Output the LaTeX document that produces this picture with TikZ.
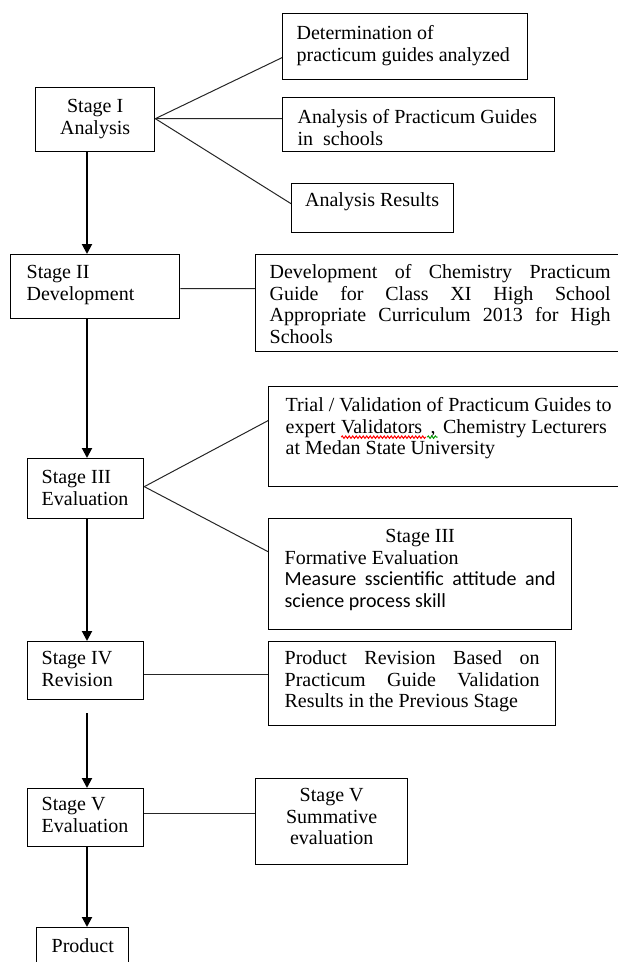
\documentclass[tikz,border=0pt]{standalone}
\usepackage{fontspec}
\setmainfont{Liberation Serif}
\newfontfamily\calibri{Carlito}
\usetikzlibrary{arrows.meta,decorations.pathmorphing}

% top aligned text inside a box of fixed size: width, height, first baseline, text
\newcommand{\cell}[4]{\parbox[c][#2][t]{#1}{\rule{0pt}{#3}#4}}
% spell-check wave under a word: colour, overhang, word
\newcommand{\spellmark}[3]{\tikz[baseline=(w.base)]{\node[inner sep=0pt, outer sep=0pt, anchor=base, draw=none] (w) {#3};
    \draw[#1, line width=1bp, decorate, decoration={snake, amplitude=1.2bp, segment length=3.5bp}] ([yshift=-4bp]w.base west) -- ([yshift=-4bp, xshift=#2]w.base east);}}

\tikzset{
  guide/.style={draw, line width=1.3bp, anchor=north west, inner xsep=15bp, inner ysep=0pt},
  link/.style={draw=black!85, line width=1bp},
  flow/.style={line width=2bp, -{Triangle[length=10bp,width=10bp]}},
}

\begin{document}
\begin{tikzpicture}[x=1bp, y=-1bp, font=\fontsize{20bp}{21.5bp}\selectfont]

        \useasboundingbox (0,0) rectangle (618,962);
        \clip (0,0) rectangle (618,962);

        % stages
        \node[guide] (s1) at (35,87) {\cell{89bp}{64bp}{25bp}{\centering Stage I\\Analysis}};
        \node[guide, inner xsep=16bp] (s2) at (10,254) {\cell{137bp}{64bp}{24bp}{Stage II\\Development}};
        \node[guide, inner xsep=14bp] (s3) at (27,458) {\cell{88bp}{60bp}{25bp}{Stage III\\Evaluation}};
        \node[guide, inner xsep=14bp] (s4) at (27,641) {\cell{88bp}{58bp}{23bp}{Stage IV\\Revision}};
        \node[guide, inner xsep=14bp] (s5) at (27,788) {\cell{88bp}{58bp}{22bp}{Stage V\\Evaluation}};
        \node[guide] (prod) at (36,927) {\cell{62bp}{50bp}{25bp}{\centering Product}};

        % activities
        \node[guide, inner xsep=14bp] (det) at (282,13) {\cell{217bp}{66bp}{26bp}{\raggedright Determination of\\practicum guides analyzed}};
        \node[guide] (apg) at (282,97) {\cell{242bp}{54bp}{26bp}{\raggedright Analysis of Practicum Guides\\in~~schools}};
        \node[guide, inner xsep=13.5bp] (ares) at (291,183) {\cell{135bp}{49bp}{23bp}{\raggedright Analysis Results}};
        \node[guide, inner xsep=14bp] (dev) at (255,254) {\cell{341bp}{97bp}{24bp}{Development of Chemistry Practicum\linebreak
            Guide for Class XI High School\linebreak Appropriate Curriculum 2013 for High\linebreak Schools}};
        \node[guide, inner xsep=17bp] (trial) at (268,386) {\cell{340bp}{100bp}{25bp}{\raggedright Trial / Validation of Practicum Guides to\\
            expert \spellmark{red}{4bp}{Validators}\spellmark{green!60!black}{2bp}{\,,} Chemistry Lecturers\\at Medan State University}};
        \node[guide, inner xsep=16bp] (form) at (268,518) {\cell{271bp}{111bp}{24bp}{{\centering Stage III\par}
            Formative Evaluation\par {\calibri Measure sscientific attitude and\linebreak science process skill\par}}};
        \node[guide, inner xsep=16bp] (rev) at (268,641) {\cell{255bp}{84bp}{23bp}{Product Revision Based on\linebreak
            Practicum Guide Validation\linebreak Results in the Previous Stage}};
        \node[guide] (summ) at (255,778) {\cell{122bp}{86bp}{23bp}{\centering Stage V\\Summative\\evaluation}};

        % links to the activities
        \path[link] ([yshift=1bp]s1.east) edge ([yshift=-11bp]det.west)
                    ([yshift=1bp]s1.east) edge ([yshift=6bp]apg.west)
                    ([yshift=1bp]s1.east) edge ([yshift=4.5bp]ares.west);
        \path[link] ([yshift=-2bp]s2.east) edge ([yshift=14.5bp]dev.west);
        \path[link] ([yshift=2bp]s3.east) edge ([yshift=16bp]trial.west)
                    ([yshift=2bp]s3.east) edge ([yshift=22.5bp]form.west);
        \path[link] ([yshift=-4bp]s4.east) edge ([yshift=-4bp]s4.east -| rev.west);
        \path[link] ([yshift=4bp]s5.east) edge ([yshift=4bp]s5.east -| summ.west);

        % main flow
        \coordinate (spine) at (87,0);
        \coordinate (gap) at ([yshift=-13bp]s4.south -| spine);
        \draw[flow] (s1.south -| spine) -- (s2.north -| spine);
        \draw[flow] (s2.south -| spine) -- (s3.north -| spine);
        \draw[flow] (s3.south -| spine) -- (s4.north -| spine);
        \draw[flow] (gap) -- (s5.north -| spine);
        \draw[flow] (s5.south -| spine) -- (prod.north -| spine);

      \end{tikzpicture}
\end{document}
